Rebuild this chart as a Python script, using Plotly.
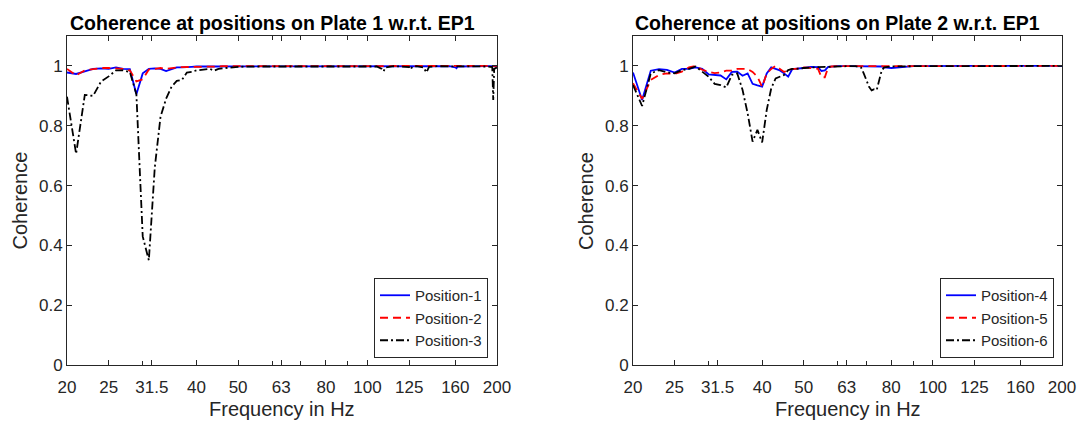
import plotly.graph_objects as go

# ---------------- data ----------------
freq_p1 = [20, 21, 22, 23, 24, 25, 26, 27, 28, 29, 30, 31, 32, 33, 34, 35, 36, 37, 38, 39,
           40, 41, 42, 43, 44, 45, 46, 47, 48, 49, 50,
           55, 60, 65, 70, 80, 90, 100, 105, 108, 109, 110, 115, 120, 125, 126, 127, 130,
           135, 137, 139, 145, 150, 155, 160, 161, 162, 170, 180, 190, 195, 196, 197, 200]

pos1 = [0.978, 0.973, 0.982, 0.990, 0.992, 0.990, 0.995, 0.990, 0.989, 0.905, 0.975, 0.990,
        0.992, 0.990, 0.983, 0.988, 0.995, 0.995, 0.997, 0.997,
        0.998, 0.997, 0.998, 0.998, 0.998, 0.999, 0.998, 0.999, 0.999, 0.999, 0.999,
        0.999, 0.999, 1.000, 0.999, 1.000, 0.999, 0.999, 1.000, 0.999, 0.998, 0.999, 1.000,
        0.999, 0.999, 0.998, 0.999, 1.000, 0.999, 0.999, 1.000, 0.999, 1.000, 0.999, 0.995,
        0.992, 0.998, 0.999, 1.000, 0.999, 0.999, 0.998, 0.999, 1.000]

pos2 = [0.990, 0.968, 0.985, 0.990, 0.993, 0.993, 0.992, 0.990, 0.985, 0.948, 0.955, 0.988,
        0.990, 0.993, 0.990, 0.993, 0.995, 0.996, 0.996, 0.997,
        0.997, 0.998, 0.998, 0.998, 0.998, 0.998, 0.999, 0.998, 0.999, 0.999, 0.999,
        0.999, 0.999, 0.999, 1.000, 0.999, 0.999, 1.000, 0.999, 0.999, 0.999, 0.999, 1.000,
        0.999, 0.999, 0.999, 0.999, 1.000, 0.999, 0.999, 0.999, 1.000, 0.999, 0.999, 0.999,
        0.999, 0.999, 1.000, 0.999, 0.999, 0.999, 0.999, 0.999, 1.000]

pos3 = [0.897, 0.706, 0.903, 0.900, 0.948, 0.965, 0.985, 0.985, 0.980, 0.905, 0.430, 0.350,
        0.660, 0.830, 0.890, 0.930, 0.950, 0.953, 0.978, 0.980,
        0.985, 0.987, 0.988, 0.990, 0.984, 0.990, 0.992, 0.993, 0.995, 0.996, 0.997,
        0.998, 0.998, 0.999, 0.999, 0.999, 0.999, 0.998, 0.998, 0.990, 0.982, 0.995, 0.999,
        0.998, 0.996, 0.988, 0.997, 0.999, 0.995, 0.978, 0.997, 0.999, 0.999, 0.999, 0.999,
        0.998, 0.999, 0.999, 0.999, 0.998, 0.996, 0.886, 0.990, 0.995]

freq_p2 = [20, 21, 22, 23, 24, 25, 26, 27, 28, 29, 30, 31, 32, 33, 34, 35, 36, 37, 38, 39,
           40, 41, 42, 43, 44, 45, 46, 47, 48, 49, 50,
           52, 54, 55, 56, 57, 58, 60, 63, 66, 68, 69, 70, 71, 72, 73, 74, 75, 76, 77,
           80, 90, 100, 125, 160, 200]

pos4 = [0.978, 0.886, 0.984, 0.989, 0.987, 0.978, 0.990, 0.990, 0.995, 0.990, 0.972, 0.970,
        0.968, 0.955, 0.980, 0.981, 0.967, 0.975, 0.940, 0.935,
        0.931, 0.975, 0.995, 0.990, 0.985, 0.975, 0.964, 0.989, 0.990, 0.992, 0.993,
        0.997, 0.996, 0.983, 0.985, 0.997, 0.998, 0.999, 0.999, 0.999, 0.999, 0.998, 0.998,
        0.999, 0.999, 0.999, 0.999, 0.999, 0.998, 0.995, 0.993, 0.999, 1.000, 1.000, 1.000, 1.000]

pos5 = [0.942, 0.890, 0.953, 0.970, 0.975, 0.973, 0.981, 0.995, 1.000, 0.987, 0.980, 0.976,
        0.978, 0.984, 0.984, 0.990, 0.990, 0.990, 0.980, 0.964,
        0.930, 0.975, 0.990, 1.000, 0.990, 0.980, 0.985, 0.990, 0.990, 0.992, 0.995,
        0.993, 0.990, 0.962, 0.962, 0.995, 0.998, 0.999, 0.999, 0.999, 0.999, 0.999, 0.999,
        0.999, 0.999, 0.999, 0.999, 0.999, 0.999, 0.999, 0.999, 0.999, 1.000, 1.000, 1.000, 1.000]

pos6 = [0.936, 0.866, 0.975, 0.986, 0.978, 0.975, 0.986, 0.990, 0.998, 0.981, 0.964, 0.940,
        0.936, 0.928, 0.970, 0.975, 0.920, 0.842, 0.747, 0.786,
        0.744, 0.853, 0.925, 0.958, 0.964, 0.970, 0.986, 0.990, 0.990, 0.992, 0.993,
        0.995, 0.996, 0.997, 0.998, 0.998, 0.998, 0.998, 0.999, 0.999, 0.995, 0.975, 0.950,
        0.930, 0.918, 0.922, 0.920, 0.950, 0.985, 0.995, 0.998, 0.999, 0.999, 0.999, 0.999, 1.000]

x_tick_vals = [20, 25, 31.5, 40, 50, 63, 80, 100, 125, 160, 200]
x_tick_text = ["20", "25", "31.5", "40", "50", "63", "80", "100", "125", "160", "200"]
x_minor_vals = [30, 60, 70, 90]
y_tick_vals = [0, 0.2, 0.4, 0.6, 0.8, 1]
y_tick_text = ["0", "0.2", "0.4", "0.6", "0.8", "1"]

titles = ["Coherence at positions on Plate 1 w.r.t. EP1",
          "Coherence at positions on Plate 2 w.r.t. EP1"]

# ---------------- styling ----------------
W, H = 1083, 421
FONT = "Liberation Sans, Arial, Helvetica, sans-serif"
AX = "#262626"
BLUE, RED, BLACK = "#0000FF", "#FF0000", "#000000"
LW = 1.8
DASH = "8px,5px"
DASHDOT = "8px,3px,2px,3px"

fig = go.Figure()

series = [
    (freq_p1, pos1, "Position-1", BLUE, "solid", "x", "y", "legend"),
    (freq_p1, pos2, "Position-2", RED, DASH, "x", "y", "legend"),
    (freq_p1, pos3, "Position-3", BLACK, DASHDOT, "x", "y", "legend"),
    (freq_p2, pos4, "Position-4", BLUE, "solid", "x2", "y2", "legend2"),
    (freq_p2, pos5, "Position-5", RED, DASH, "x2", "y2", "legend2"),
    (freq_p2, pos6, "Position-6", BLACK, DASHDOT, "x2", "y2", "legend2"),
]
for fx, fy, name, col, dash, xa, ya, lg in series:
    fig.add_trace(go.Scatter(x=fx, y=fy, name=name, mode="lines",
                             line=dict(color=col, width=LW, dash=dash),
                             xaxis=xa, yaxis=ya, legend=lg))

# axis domains (pixels -> paper)
xd1 = [67 / W, 497 / W]
xd2 = [633 / W, 1062 / W]
yd = [1 - 365 / H, 1 - 36 / H]

TICKFONT = dict(family=FONT, size=17, color=AX)

def xaxis(domain, anchor):
    return dict(domain=domain, anchor=anchor, type="log",
                range=[1.30103, 2.30103],
                tickmode="array", tickvals=x_tick_vals, ticktext=x_tick_text,
                ticks="inside", ticklen=5, tickcolor=AX, tickwidth=1,
                minor=dict(tickmode="array", tickvals=x_minor_vals, ticks="inside",
                           ticklen=4, tickcolor=AX, tickwidth=1),
                showline=True, linecolor=AX, linewidth=1, mirror="ticks",
                showgrid=False, zeroline=False, automargin=False,
                ticklabelstandoff=7,
                tickfont=TICKFONT)

def yaxis(domain, anchor):
    return dict(domain=domain, anchor=anchor, range=[0, 1.1],
                tickmode="array", tickvals=y_tick_vals, ticktext=y_tick_text,
                ticks="inside", ticklen=5, tickcolor=AX, tickwidth=1,
                showline=True, linecolor=AX, linewidth=1, mirror="ticks",
                showgrid=False, zeroline=False, automargin=False,
                tickfont=TICKFONT)

legend_style = dict(bgcolor="white", bordercolor=AX, borderwidth=1,
                    font=dict(family=FONT, size=15, color=AX),
                    xanchor="right", yanchor="bottom", tracegroupgap=0)

fig.update_layout(
    width=W, height=H,
    margin=dict(l=0, r=0, t=0, b=0, pad=0, autoexpand=False),
    paper_bgcolor="white", plot_bgcolor="white",
    xaxis=xaxis(xd1, "y"), yaxis=yaxis(yd, "x"),
    xaxis2=xaxis(xd2, "y2"), yaxis2=yaxis(yd, "x2"),
    legend=dict(x=488 / W, y=1 - 358 / H, **legend_style),
    legend2=dict(x=1054 / W, y=1 - 358 / H, **legend_style),
    showlegend=True,
)

annots = []
for cx, cxl, t in zip([272.5, 837.5], [(67 + 497) / 2, (633 + 1062) / 2], titles):
    annots.append(dict(text="<b>" + t + "</b>", x=cx / W, y=1 - 23 / H, xref="paper", yref="paper",
                       xanchor="center", yanchor="middle", showarrow=False,
                       font=dict(family=FONT, size=19.5, color="black")))
    annots.append(dict(text="Frequency in Hz", x=cxl / W, y=1 - 409 / H, xref="paper", yref="paper",
                       xanchor="center", yanchor="middle", showarrow=False,
                       font=dict(family=FONT, size=20, color=AX)))
for px in [19.5, 586]:
    annots.append(dict(text="Coherence", x=px / W, y=1 - 201 / H, xref="paper", yref="paper",
                       xanchor="center", yanchor="middle", showarrow=False, textangle=-90,
                       font=dict(family=FONT, size=20, color=AX)))
fig.update_layout(annotations=annots)

fig.write_html("out.html",
               config={"displayModeBar": False},
               post_script="document.body.style.margin='0';document.body.style.padding='0';"
                           "document.documentElement.style.overflow='hidden';")
